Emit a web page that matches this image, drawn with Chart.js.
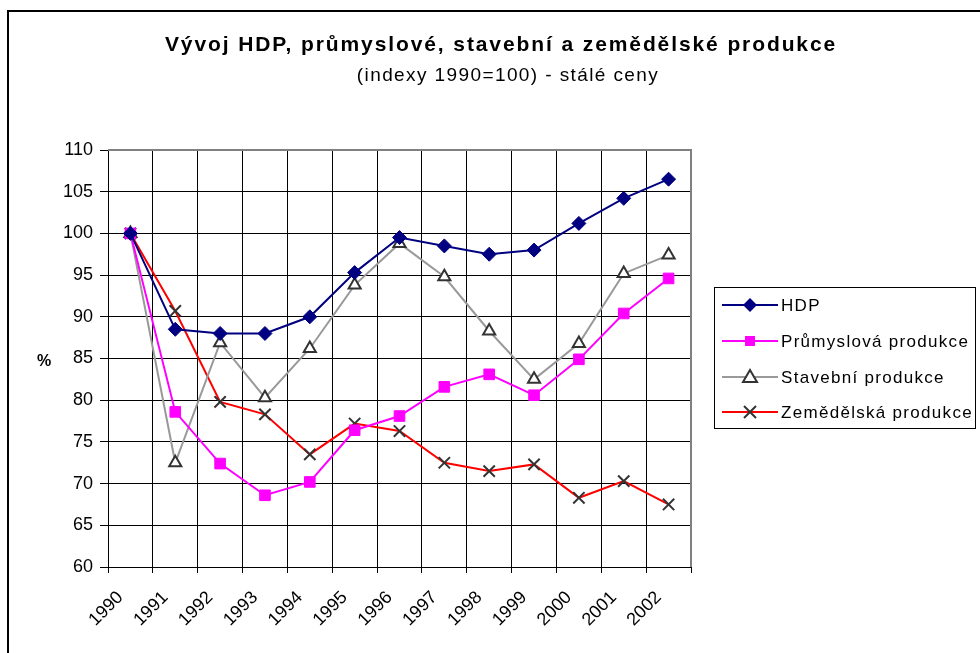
<!DOCTYPE html>
<html>
  <head>
    <meta charset="utf-8" />
    <title>Vývoj HDP</title>
    <script src="https://cdn.jsdelivr.net/npm/chart.js"></script>
    <style>
      body { margin: 0; background: #fff; }
      canvas { display: block; }
    </style>
  </head>
  <body>
    <canvas id="grafHdp" width="980" height="653"></canvas>

    <script>
      // hodnoty (indexy 1990=100)
      const roky = ["1990", "1991", "1992", "1993", "1994", "1995", "1996", "1997", "1998", "1999", "2000", "2001", "2002"];
      const hdp = [100, 88.5, 88.0, 88.0, 90.0, 95.3, 99.5, 98.5, 97.5, 98.0, 101.2, 104.2, 106.5];
      const prumysl = [100, 78.6, 72.4, 68.6, 70.2, 76.4, 78.1, 81.6, 83.1, 80.6, 84.9, 90.4, 94.6];
      const stavebnictvi = [100, 72.5, 86.9, 80.3, 86.2, 93.8, 98.8, 94.8, 88.3, 82.5, 86.8, 95.2, 97.4];
      const zemedelstvi = [100, 90.7, 79.8, 78.3, 73.5, 77.2, 76.3, 72.5, 71.5, 72.3, 68.3, 70.3, 67.5];

      const titulek = "Vývoj HDP, průmyslové, stavební a zemědělské produkce";
      const podtitulek = "(indexy 1990=100) - stálé ceny";
      const font = "'Liberation Sans', Arial, sans-serif";

      // vlastní kreslení: rámeček, nadpis, % a legenda
      const doplnky = {
        id: "doplnky",
        beforeDatasetsDraw(chart) {
          const ctx = chart.ctx;
          const a = chart.chartArea;
          ctx.save();
          ctx.strokeStyle = "#808080";
          ctx.lineWidth = 2;
          ctx.beginPath();
          ctx.moveTo(a.left, a.top);
          ctx.lineTo(a.right, a.top);
          ctx.lineTo(a.right, a.bottom);
          ctx.stroke();
          ctx.restore();
        },
        afterDraw(chart) {
          const ctx = chart.ctx;
          ctx.save();

          // vnější rámeček
          ctx.strokeStyle = "#000";
          ctx.lineWidth = 2;
          ctx.beginPath();
          ctx.moveTo(8, 653);
          ctx.lineTo(8, 11);
          ctx.lineTo(980, 11);
          ctx.stroke();

          // nadpis
          ctx.fillStyle = "#000";
          ctx.textAlign = "center";
          ctx.textBaseline = "middle";
          ctx.font = "bold 21px " + font;
          ctx.letterSpacing = "1.9px";
          ctx.fillText(titulek, 501, 45);
          ctx.font = "19px " + font;
          ctx.letterSpacing = "1.4px";
          ctx.fillText(podtitulek, 508, 76);
          ctx.letterSpacing = "0px";

          // popisek osy y
          ctx.font = "bold 16px " + font;
          ctx.fillText("%", 44, 362);

          // legenda
          ctx.lineWidth = 1;
          ctx.strokeStyle = "#000";
          ctx.strokeRect(714.5, 287.5, 261, 141);
          const radky = [305, 341, 377, 412];
          chart.data.datasets.forEach(function (ds, i) {
            const y = radky[i];
            ctx.strokeStyle = ds.borderColor;
            ctx.lineWidth = 2;
            ctx.beginPath();
            ctx.moveTo(722, y);
            ctx.lineTo(778, y);
            ctx.stroke();
            znacka(ctx, ds, 750, y);
            ctx.fillStyle = "#000";
            ctx.textAlign = "left";
            ctx.font = "17px " + font;
            ctx.letterSpacing = "1.3px";
            ctx.fillText(ds.label, 781, y + 1);
            ctx.letterSpacing = "0px";
          });
          ctx.restore();
        },
      };

      function znacka(ctx, ds, x, y) {
        ctx.save();
        ctx.fillStyle = ds.pointBackgroundColor;
        ctx.strokeStyle = ds.pointBorderColor;
        ctx.lineWidth = ds.pointBorderWidth;
        ctx.beginPath();
        if (ds.pointStyle == "rectRot") {
          ctx.moveTo(x, y - 7);
          ctx.lineTo(x + 7, y);
          ctx.lineTo(x, y + 7);
          ctx.lineTo(x - 7, y);
          ctx.closePath();
          ctx.fill();
        } else if (ds.pointStyle == "rect") {
          ctx.rect(x - 5, y - 5, 10, 10);
          ctx.fill();
        } else if (ds.pointStyle == "triangle") {
          ctx.moveTo(x, y - 7);
          ctx.lineTo(x + 7, y + 5);
          ctx.lineTo(x - 7, y + 5);
          ctx.closePath();
          ctx.fill();
          ctx.stroke();
        } else {
          ctx.moveTo(x - 6, y - 6);
          ctx.lineTo(x + 6, y + 6);
          ctx.moveTo(x + 6, y - 6);
          ctx.lineTo(x - 6, y + 6);
          ctx.stroke();
        }
        ctx.restore();
      }

      const dados = {
        labels: roky,
        datasets: [
          {
            label: "HDP",
            data: hdp,
            borderColor: "#000080",
            borderWidth: 2,
            pointStyle: "rectRot",
            pointRadius: 7,
            pointBackgroundColor: "#000080",
            pointBorderColor: "#000080",
            pointBorderWidth: 1,
          },
          {
            label: "Průmyslová produkce",
            data: prumysl,
            borderColor: "#ff00ff",
            borderWidth: 2,
            pointStyle: "rect",
            pointRadius: 7.5,
            pointBackgroundColor: "#ff00ff",
            pointBorderColor: "#ff00ff",
            pointBorderWidth: 1,
          },
          {
            label: "Stavební produkce",
            data: stavebnictvi,
            borderColor: "#999999",
            borderWidth: 2,
            pointStyle: "triangle",
            pointRadius: 7,
            pointBackgroundColor: "#ffffff",
            pointBorderColor: "#333333",
            pointBorderWidth: 2,
          },
          {
            label: "Zemědělská produkce",
            data: zemedelstvi,
            borderColor: "#ff0000",
            borderWidth: 2,
            pointStyle: "crossRot",
            pointRadius: 8,
            pointBackgroundColor: "#333333",
            pointBorderColor: "#333333",
            pointBorderWidth: 2,
          },
        ],
      };

      const config = {
        type: "line",
        data: dados,
        plugins: [doplnky],
        options: {
          responsive: false,
          animation: false,
          layout: { padding: { top: 150, right: 289, left: 0, bottom: 0 } },
          plugins: {
            legend: { display: false },
            title: { display: false },
            tooltip: { enabled: false },
          },
          elements: { line: { tension: 0 } },
          scales: {
            x: {
              offset: true,
              afterFit: function (s) { s.height = 86; },
              grid: { offset: true, color: "#000", lineWidth: 1, tickLength: 6 },
              border: { color: "#000", width: 1 },
              ticks: {
                minRotation: 45,
                maxRotation: 45,
                labelOffset: -10,
                color: "#000",
                padding: 14,
                font: { family: font, size: 18 },
              },
            },
            y: {
              min: 60,
              max: 110,
              afterFit: function (s) { s.width = 108; },
              grid: { color: "#000", lineWidth: 1, tickLength: 8 },
              border: { color: "#000", width: 1 },
              ticks: {
                stepSize: 5,
                color: "#000",
                padding: 7,
                font: { family: font, size: 18 },
              },
            },
          },
        },
      };

      let myChart = new Chart(document.getElementById("grafHdp"), config);
    </script>
  </body>
</html>
